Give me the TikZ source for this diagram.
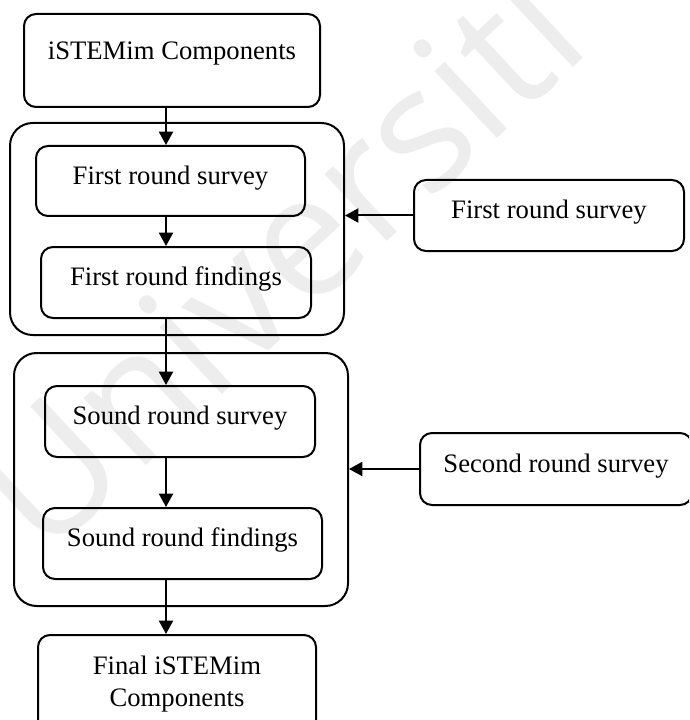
\documentclass[tikz,border=0pt]{standalone}
\usepackage{fontspec}
\setmainfont{Liberation Serif}
\newfontfamily\markfont{Open Sans}
\usetikzlibrary{arrows.meta}

\begin{document}
\begin{tikzpicture}[x=0.75pt,y=-0.75pt,
  line width=1.5pt,
  stagebox/.style={draw, rounded corners=9pt, inner sep=0pt,
    font=\fontsize{20pt}{24pt}\selectfont},
  oneline/.style={text height=13pt, text depth=8pt},
  groupbox/.style={draw, rounded corners=17pt, inner sep=0pt},
  flow/.style={-{Triangle[length=10pt,width=10.5pt]}, line width=1.5pt},
  watermark/.style={rotate=43, text=black!7,
    font=\markfont\fontsize{128pt}{128pt}\selectfont},
]
\useasboundingbox (0,0) rectangle (689,720);
\clip (0,0) rectangle (689,720);

% faint background watermark
\node[watermark] (mark) at (277,259) {Universiti};

% column along which the main flow runs
\coordinate (spine) at (166,0);

% starting point
\node[stagebox, minimum width=222pt, minimum height=69.75pt,
      text height=13pt, text depth=13.75pt] (start) at (172,60.5) {iSTEMim Components};

% first round
\node[groupbox, minimum width=250.5pt, minimum height=159pt] (round1) at (177,229) {};
\node[stagebox, oneline, minimum width=201.75pt, minimum height=52.5pt] (survey1) at (170.5,181) {First round survey};
\node[stagebox, oneline, minimum width=202.5pt, minimum height=53.25pt] (find1) at (176,282.5) {First round findings};

% second round
\node[groupbox, minimum width=250.5pt, minimum height=189.75pt] (round2) at (181,479.5) {};
\node[stagebox, oneline, minimum width=202.5pt, minimum height=53.25pt] (survey2) at (180,421.5) {Sound round survey};
\node[stagebox, oneline, minimum width=209.25pt, minimum height=53.25pt] (find2) at (182.5,543.5) {Sound round findings};

% result (two lines, runs past the lower edge)
\node[stagebox, anchor=north, align=center, minimum width=208.5pt,
      inner xsep=0pt, inner ysep=15.5pt] (final) at (177,634)
      {Final iSTEMim\\Components};

% inputs on the right
\node[stagebox, oneline, minimum width=202.5pt, minimum height=53.25pt] (src1) at (549,215.5) {First round survey};
\node[stagebox, oneline, minimum width=204pt, minimum height=54pt] (src2) at (556,469) {Second round survey};

% main flow
\draw[flow] (start.south -| spine) -- (survey1.north -| spine);
\draw[flow] (survey1.south -| spine) -- (find1.north -| spine);
\draw[flow] (find1.south -| spine) -- (survey2.north -| spine);
\draw[flow] (survey2.south -| spine) -- (find2.north -| spine);
\draw[flow] (find2.south -| spine) -- (final.north -| spine);

% inputs feeding each round
\draw[flow] (src1.west) -- (round1.east |- src1.west);
\draw[flow] (src2.west) -- (round2.east |- src2.west);
\end{tikzpicture}
\end{document}
